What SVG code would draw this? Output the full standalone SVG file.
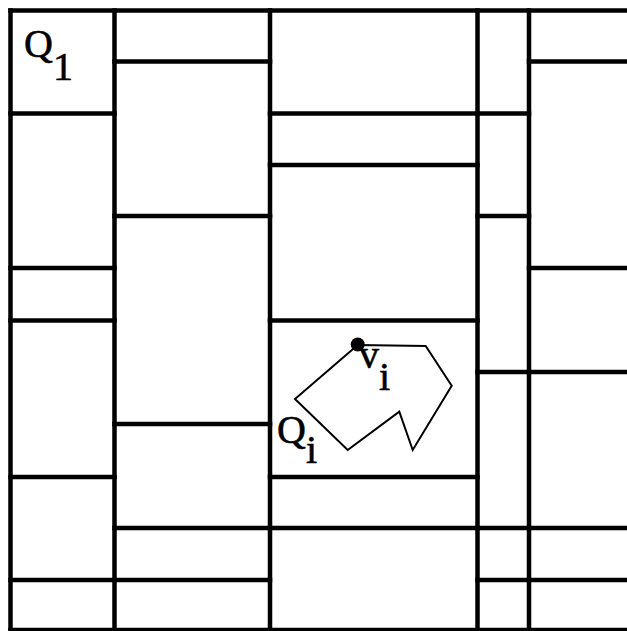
<svg xmlns="http://www.w3.org/2000/svg" width="627" height="631" viewBox="0 0 627 631">
  <style>
    .g { stroke: #000; stroke-width: 4.5; fill: none; stroke-linecap: square; }
    .poly { stroke: #000; stroke-width: 2; fill: none; stroke-linejoin: miter; }
    .t { font-family: "Liberation Serif", "Times New Roman", serif; font-size: 40px; fill: #000; stroke: #000; stroke-width: 0.6; }
  </style>
  <rect width="627" height="631" fill="#fff"/>
  <g id="grid" class="g">
    <line x1="10.5" y1="10.5" x2="630" y2="10.5"/>
    <line x1="10.5" y1="10.5" x2="10.5" y2="630"/>
    <line x1="10.5" y1="630" x2="630" y2="630"/>
    <line x1="114.5" y1="10.5" x2="114.5" y2="630"/>
    <line x1="270" y1="10.5" x2="270" y2="630"/>
    <line x1="477.5" y1="10.5" x2="477.5" y2="630"/>
    <line x1="529" y1="10.5" x2="529" y2="630"/>
    <line x1="10.5" y1="113.5" x2="114.5" y2="113.5"/>
    <line x1="10.5" y1="268" x2="114.5" y2="268"/>
    <line x1="10.5" y1="320.5" x2="114.5" y2="320.5"/>
    <line x1="10.5" y1="477" x2="114.5" y2="477"/>
    <line x1="10.5" y1="580" x2="114.5" y2="580"/>
    <line x1="114.5" y1="61.5" x2="270" y2="61.5"/>
    <line x1="114.5" y1="216" x2="270" y2="216"/>
    <line x1="114.5" y1="424" x2="270" y2="424"/>
    <line x1="114.5" y1="528" x2="270" y2="528"/>
    <line x1="114.5" y1="580" x2="270" y2="580"/>
    <line x1="270" y1="113.5" x2="477.5" y2="113.5"/>
    <line x1="270" y1="165" x2="477.5" y2="165"/>
    <line x1="270" y1="320.5" x2="477.5" y2="320.5"/>
    <line x1="270" y1="477" x2="477.5" y2="477"/>
    <line x1="270" y1="528" x2="477.5" y2="528"/>
    <line x1="477.5" y1="113.5" x2="529" y2="113.5"/>
    <line x1="477.5" y1="216" x2="529" y2="216"/>
    <line x1="477.5" y1="372" x2="529" y2="372"/>
    <line x1="477.5" y1="528" x2="529" y2="528"/>
    <line x1="477.5" y1="580" x2="529" y2="580"/>
    <line x1="529" y1="61.5" x2="630" y2="61.5"/>
    <line x1="529" y1="268" x2="630" y2="268"/>
    <line x1="529" y1="372" x2="630" y2="372"/>
    <line x1="529" y1="528" x2="630" y2="528"/>
    <line x1="529" y1="580" x2="630" y2="580"/>
  </g>
  <g id="Qi-polygon">
    <polygon class="poly" points="357.7,345 425.7,346 451.7,385.7 412.7,450 399.3,411.7 347.7,450 295,399"/>
    <circle cx="357.7" cy="344.5" r="7" fill="#000"/>
  </g>
  <g id="labels">
    <text class="t" x="24" y="57">Q<tspan dy="23">1</tspan></text>
    <text class="t" x="277" y="443">Q<tspan dy="20">i</tspan></text>
    <text class="t" x="359" y="368">v<tspan dy="22">i</tspan></text>
  </g>
</svg>
